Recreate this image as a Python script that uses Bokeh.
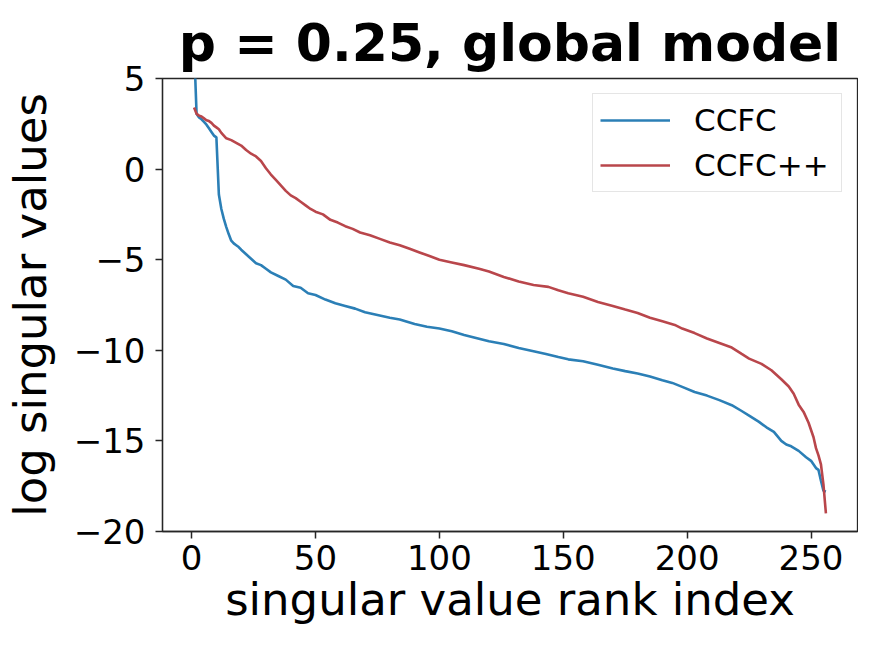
from bokeh.plotting import figure
from bokeh.models import Range1d, FixedTicker, Legend, LegendItem
from bokeh.embed import file_html
from bokeh.resources import INLINE

# ---- data ----
ccfc_x = [1, 2, 3, 4, 5, 6, 7, 8, 9, 10, 11, 12, 13, 14, 15, 16, 17, 18, 19, 20,
          22, 24, 26, 28, 30, 32, 35, 38, 41, 44, 47, 50, 54, 58, 62, 66, 70, 75, 80, 84,
          90, 95, 100, 105, 110, 116, 120, 126, 132, 138, 143, 148, 152, 158, 164, 170,
          175, 180, 185, 190, 194, 198, 203, 208, 213, 218, 222, 225, 229, 232, 235, 238,
          240, 242, 245, 248, 250, 252, 253, 254, 255, 256]
ccfc_y = [6.8, 3.05, 2.85, 2.75, 2.6, 2.45, 2.25, 2.05, 1.85, 1.75, -1.4, -2.2, -2.75, -3.2, -3.6, -3.95, -4.1, -4.2, -4.3, -4.45,
          -4.7, -4.95, -5.2, -5.3, -5.5, -5.7, -5.9, -6.1, -6.45, -6.55, -6.85, -6.95, -7.2, -7.4, -7.55, -7.7, -7.9, -8.05, -8.2, -8.3,
          -8.55, -8.7, -8.8, -8.95, -9.15, -9.36, -9.5, -9.65, -9.87, -10.05, -10.2, -10.37, -10.5, -10.6, -10.8, -11.0,
          -11.15, -11.28, -11.45, -11.65, -11.8, -12.02, -12.3, -12.5, -12.75, -13.03, -13.35, -13.6, -13.95, -14.25, -14.5, -15.0,
          -15.2, -15.3, -15.55, -15.9, -16.1, -16.5, -16.6, -17.2, -17.75, -17.8]

ccfcpp_x = [1, 2, 3, 4, 5, 6, 7, 8, 9, 10, 11, 12, 13, 14, 16, 18, 20, 22, 24, 26,
            28, 30, 32, 34, 36, 38, 40, 42, 44, 46, 48, 50, 53, 56, 59, 62, 65, 68, 72, 76,
            80, 84, 88, 92, 96, 100, 105, 110, 116, 120, 126, 132, 138, 144, 148, 152, 158,
            164, 170, 175, 180, 185, 190, 195, 198, 203, 208, 213, 218, 222, 225, 230, 234,
            238, 241, 243, 245, 247, 249, 251, 252, 253, 254, 255, 256]
ccfcpp_y = [3.4, 3.05, 2.95, 2.9, 2.8, 2.7, 2.65, 2.55, 2.4, 2.3, 2.2, 2.0, 1.85, 1.7, 1.6, 1.45, 1.3, 1.05, 0.85, 0.7,
            0.45, 0.05, -0.3, -0.6, -0.9, -1.2, -1.45, -1.6, -1.8, -2.0, -2.2, -2.35, -2.5, -2.8, -2.95, -3.15, -3.3, -3.5, -3.65, -3.85,
            -4.05, -4.2, -4.4, -4.6, -4.8, -5.0, -5.15, -5.3, -5.5, -5.65, -5.95, -6.2, -6.4, -6.5, -6.69, -6.85, -7.05,
            -7.33, -7.55, -7.75, -7.94, -8.2, -8.4, -8.6, -8.8, -9.05, -9.35, -9.6, -9.85, -10.2, -10.46, -10.75, -11.1,
            -11.6, -12.0, -12.4, -13.0, -13.4, -14.0, -14.8, -15.4, -15.8, -16.3, -17.4, -19.0]

series_names = ["CCFC", "CCFC++"]
title_text = "p = 0.25, global model"
x_ticks = [0, 50, 100, 150, 200, 250]
y_ticks = [5, 0, -5, -10, -15, -20]
y_tick_labels = ["5", "0", "\u22125", "\u221210", "\u221215", "\u221220"]

BLUE = "#2b7fb6"
RED = "#b9464b"
FONT = "DejaVu Sans"
AX = "#262626"

p = figure(width=858, height=634, output_backend="svg", toolbar_location=None,
           x_range=Range1d(-11.75, 268.75), y_range=Range1d(-20, 5),
           min_border_left=161, min_border_right=1, min_border_top=78, min_border_bottom=103,
           title=title_text)

p.title.text_font = FONT
p.title.text_font_size = "52px"
p.title.text_font_style = "bold"
p.title.text_color = "black"
p.title.align = "center"
p.title.vertical_align = "top"
p.title.standoff = 7

p.xgrid.visible = False
p.ygrid.visible = False
p.background_fill_color = "white"
p.border_fill_color = "white"
p.outline_line_color = AX
p.outline_line_width = 1.3
p.outline_line_alpha = 1.0

p.xaxis.ticker = FixedTicker(ticks=x_ticks)
p.yaxis.ticker = FixedTicker(ticks=y_ticks)
p.yaxis.major_label_overrides = {t: l for t, l in zip(y_ticks, y_tick_labels)}
p.xaxis.axis_label = "singular value rank index"
p.yaxis.axis_label = "log singular values"

for ax in (p.xaxis[0], p.yaxis[0]):
    ax.axis_line_color = AX
    ax.axis_line_width = 1.3
    ax.major_tick_line_color = AX
    ax.major_tick_line_width = 1.5
    ax.major_tick_out = 7
    ax.major_tick_in = 0
    ax.minor_tick_out = 0
    ax.minor_tick_in = 0
    ax.major_label_text_font = FONT
    ax.major_label_text_font_size = "34px"
    ax.major_label_text_color = "black"
    ax.axis_label_text_font = FONT
    ax.axis_label_text_font_size = "45px"
    ax.axis_label_text_font_style = "normal"
    ax.axis_label_text_color = "black"

p.xaxis.major_label_standoff = 6
p.yaxis.major_label_standoff = 10
p.xaxis.axis_label_standoff = 0
p.yaxis.axis_label_standoff = 14

r1 = p.line(ccfc_x, ccfc_y, line_color=BLUE, line_width=2.6)
r2 = p.line(ccfcpp_x, ccfcpp_y, line_color=RED, line_width=2.6)

legend = Legend(items=[LegendItem(label=series_names[0], renderers=[r1]),
                       LegendItem(label=series_names[1], renderers=[r2])],
                location="top_right")
legend.label_text_font = FONT
legend.label_text_font_size = "31px"
legend.label_text_color = "black"
legend.glyph_width = 70
legend.glyph_height = 38
legend.label_height = 38
legend.label_width = 140
legend.label_standoff = 24
legend.spacing = 7
legend.padding = 7
legend.margin = 15
legend.border_line_color = "#cccccc"
legend.border_line_width = 1.3
legend.background_fill_alpha = 0.8
p.add_layout(legend)

open("out.html", "w").write(file_html(p, INLINE))
